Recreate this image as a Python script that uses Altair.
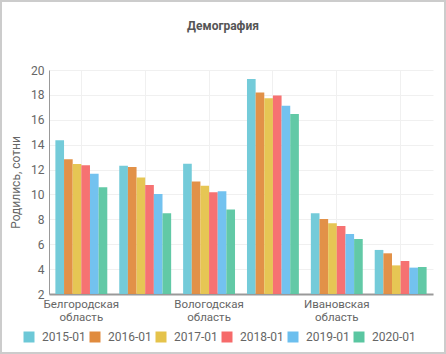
import altair as alt
import pandas as pd

regions = ["Белгородская область", "Брянская область", "Вологодская область",
           "Воронежская область", "Ивановская область", "Калужская область"]
periods = ["2015-01", "2016-01", "2017-01", "2018-01", "2019-01", "2020-01"]
values = {
    "Белгородская область": [14.35, 12.82, 12.45, 12.34, 11.67, 10.57],
    "Брянская область": [12.31, 12.20, 11.37, 10.76, 10.04, 8.48],
    "Вологодская область": [12.47, 11.05, 10.70, 10.17, 10.25, 8.80],
    "Воронежская область": [19.28, 18.20, 17.72, 17.96, 17.13, 16.46],
    "Ивановская область": [8.48, 8.03, 7.68, 7.46, 6.82, 6.42],
    "Калужская область": [5.54, 5.27, 4.30, 4.65, 4.12, 4.17],
}
colors = ["#6DC8D7", "#E08B3E", "#E5C34B", "#F66A6A", "#6CBFEE", "#5AC6A1"]
shown = ["Белгородская область", "Вологодская область", "Ивановская область"]

rows = []
for r in regions:
    for p, v in zip(periods, values[r]):
        rows.append({"region": r, "period": p, "value": v})
df = pd.DataFrame(rows)

font = "Roboto"
label_expr = "indexof([" + ",".join("'%s'" % s for s in shown) + "], datum.value) >= 0 ? split(datum.value, ' ') : ''"

bars = alt.Chart(df).mark_bar(opacity=0.95, clip=True).encode(
    x=alt.X("region:N", sort=regions, title=None,
            scale=alt.Scale(paddingInner=0.1875, paddingOuter=0.1),
            axis=alt.Axis(labelAngle=0, labelExpr=label_expr, labelFontSize=11.5,
                          labelColor="#666", labelFont=font, ticks=False,
                          domainColor="#999", domainWidth=2, labelPadding=4,
                          grid=True, gridColor="#f0f0f0", labelLineHeight=13)),
    xOffset=alt.XOffset("period:N", sort=periods, scale=alt.Scale(paddingInner=0, paddingOuter=0)),
    y=alt.Y("value:Q", title="Родились, сотни",
            scale=alt.Scale(domain=[2, 20], nice=False, zero=False),
            axis=alt.Axis(values=list(range(2, 21, 2)), labelFontSize=12, labelColor="#666",
                          labelFont=font, ticks=False, domainColor="#999",
                          gridColor="#f0f0f0", titleFont=font, titleFontSize=12,
                          titleFontWeight="normal", titleColor="#666", titlePadding=8,
                          labelPadding=5)),
    color=alt.Color("period:N", sort=periods,
                    scale=alt.Scale(domain=periods, range=colors),
                    legend=alt.Legend(title=None, orient="none", direction="horizontal",
                                      legendX=-26, legendY=261, symbolType="square",
                                      symbolSize=121, symbolStrokeWidth=0,
                                      labelFontSize=12, labelColor="#666", labelFont=font,
                                      columnPadding=3, labelOffset=7, symbolOpacity=1)),
)

frame = alt.Chart(pd.DataFrame({"a": [0]})).mark_rect(
    fill=None, stroke="#cccccc", strokeWidth=2
).encode(x=alt.value(-48), x2=alt.value(396), y=alt.value(-69), y2=alt.value(283))

chart = alt.layer(bars, frame).properties(
    width=384, height=224,
    autosize=alt.AutoSizeParams(type="none"),
    padding={"left": 49, "top": 70, "right": 13, "bottom": 60},
    title=alt.TitleParams("Демография", font=font, fontSize=12, fontWeight="bold",
                          color="#555", anchor="middle", dx=-18, offset=-33),
).configure_view(stroke=None).configure_axis(gridWidth=1)

chart.save("out.html", embed_options={"renderer": "svg", "actions": False})
